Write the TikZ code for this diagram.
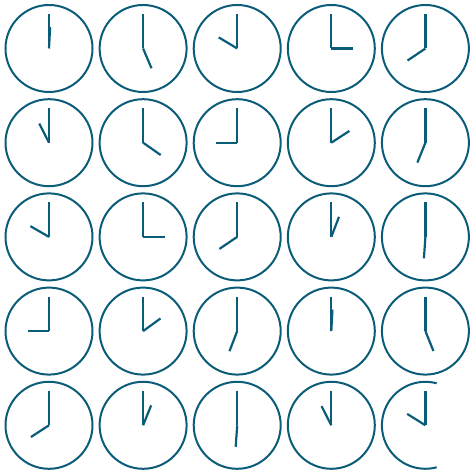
\documentclass[tikz,border=0pt]{standalone}
\usetikzlibrary{calc}
\definecolor{clockblue}{RGB}{10,92,120}
\tikzset{
  face/.style={draw=clockblue, line width=2pt},
  hand/.style={draw=clockblue, line width=2.2pt},
}
\begin{document}
\begin{tikzpicture}[x=1pt,y=1pt]
    \useasboundingbox (0,0) rectangle (469,470);
    % hour hand angles, clockwise from twelve, row by row
    \foreach \ang [count=\i from 0] in {3,157,301,90,236, 333,125,270,57,202, 300,90,236,21,184, 270,54,201,3,158, 237,22,184,333,302} {
        \pgfmathtruncatemacro{\col}{mod(\i,5)}
        \pgfmathtruncatemacro{\row}{div(\i,5)}
        \coordinate (c\i) at ({49+94.1*\col},{421.5-94.2*\row});
        \ifnum\i<24
            \draw[face] (c\i) circle (43.5);
        \else
            \draw[face] ($(c\i)+(75:43.5)$) arc (75:285:43.5);
        \fi
        \draw[hand] (c\i) -- ++(0,34.5);
        \draw[hand] (c\i) -- ++({90-\ang}:21.5);
    }
\end{tikzpicture}
\end{document}
